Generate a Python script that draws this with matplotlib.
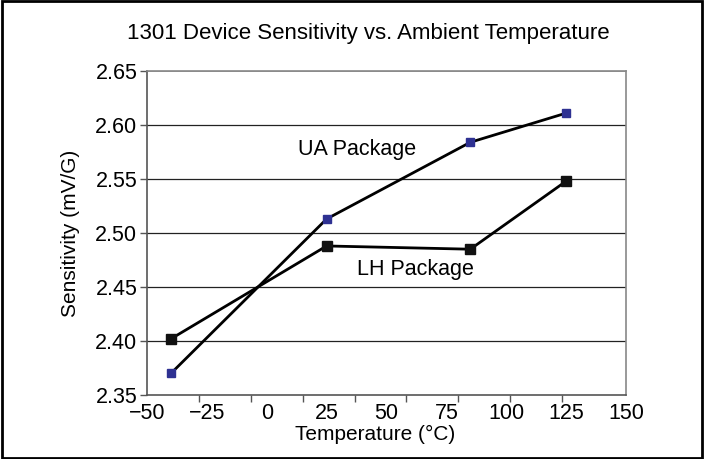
import matplotlib
matplotlib.use("Agg")
import matplotlib.pyplot as plt
import numpy as np
from matplotlib.patches import Rectangle

plt.rcParams['font.family'] = ['Liberation Sans', 'DejaVu Sans']

temps = [-40, 25, 85, 125]
ua_values = [2.370, 2.513, 2.584, 2.611]
lh_values = [2.402, 2.488, 2.485, 2.548]
x_ticks = [-50, -25, 0, 25, 50, 75, 100, 125, 150]
x_tick_labels = ['\u221250', '\u221225', '0', '25', '50', '75', '100', '125', '150']
y_ticks = [2.35, 2.40, 2.45, 2.50, 2.55, 2.60, 2.65]

fig = plt.figure(figsize=(7.04, 4.59), dpi=100)
ax = fig.add_axes([147/704, 1-395/459, (626-147)/704, (395-71)/459])

ax.plot(temps, ua_values, color='black', lw=2, marker='s', ms=5.5,
        markerfacecolor='#2e3192', markeredgecolor='#2e3192', zorder=3)
ax.plot(temps, lh_values, color='black', lw=2, marker='s', ms=6.5,
        markerfacecolor='#111111', markeredgecolor='#111111', zorder=3)

ax.set_xlim(-50, 150)
ax.set_ylim(2.35, 2.65)
ax.set_xticks(x_ticks)
ax.set_xticklabels(x_tick_labels)
# tick marks in the original are drawn on a slightly different spacing than the labels
ax.set_xticks(np.linspace(-50, -50 + 8 * 65 / 3, 9), minor=True)
ax.set_yticks(y_ticks)
ax.set_yticklabels([f'{v:.2f}' for v in y_ticks])
ax.tick_params(axis='both', labelsize=15.5, direction='out', width=1, color='#555555')
ax.tick_params(axis='y', length=5, pad=2)
ax.tick_params(axis='x', which='major', length=0, pad=6)
ax.tick_params(axis='x', which='minor', length=5, width=1, color='#555555')

for y in y_ticks[1:-1]:
    ax.axhline(y, color='#222222', lw=0.9, zorder=1)
ax.axhline(2.65, color='#888888', lw=1.2, zorder=1)

ax.spines['top'].set_color('#888888')
ax.spines['right'].set_color('#888888')
ax.spines['left'].set_color('#555555')
ax.spines['bottom'].set_color('#555555')
for s in ax.spines.values():
    s.set_linewidth(1.2)

ax.text(37.7, 2.577, 'UA Package', fontsize=15.5, ha='center', va='center')
ax.text(61.9, 2.466, 'LH Package', fontsize=15.5, ha='center', va='center')

ax.set_xlabel('Temperature (\u00b0C)', fontsize=15)
ax.xaxis.set_label_coords((375 - 147) / 479, -(444 - 395) / 324)
ax.xaxis.label.set_va('bottom')
ax.set_ylabel('Sensitivity (mV/G)', fontsize=15)
ax.yaxis.set_label_coords((70 - 147) / 479, 0.5)
ax.yaxis.label.set_va('center')

fig.text(368/704, 1-33/459, '1301 Device Sensitivity vs. Ambient Temperature',
         fontsize=16, ha='center', va='center')

fig.patches.append(Rectangle((0.003, 0.003), 0.994, 0.994, transform=fig.transFigure,
                             fill=False, edgecolor='black', lw=2))

fig.savefig('out.png', dpi=100)
